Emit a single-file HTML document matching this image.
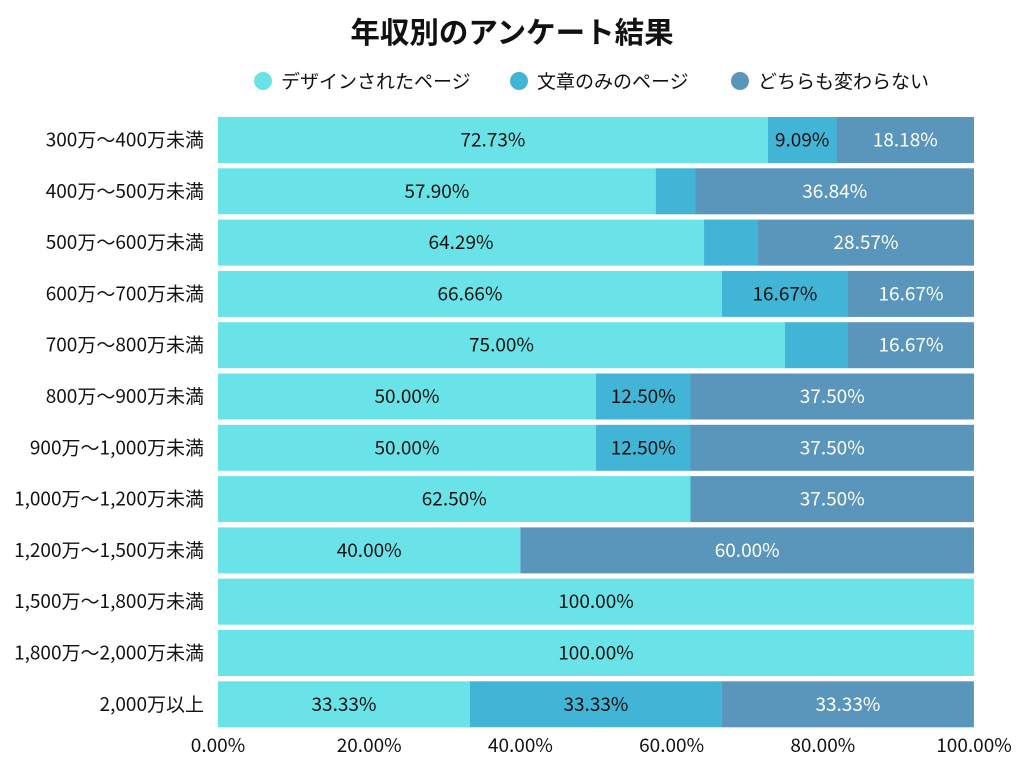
<!DOCTYPE html>
<html><head><meta charset="utf-8"><style>
body{margin:0;background:#fff;font-family:"Noto Sans CJK JP",sans-serif}
svg text{font-family:"Noto Sans CJK JP","Liberation Sans",sans-serif}
</style></head><body>
<svg id="c" width="1024" height="768">
<text x="512" y="43" text-anchor="middle" font-size="29.5" font-weight="bold" fill="#111">年収別のアンケート結果</text>
<g id="legend"></g>
<g id="bars"></g>
<g id="axis"></g>
</svg>
<script>
const categories=["300万～400万未満","400万～500万未満","500万～600万未満","600万～700万未満","700万～800万未満","800万～900万未満","900万～1,000万未満","1,000万～1,200万未満","1,200万～1,500万未満","1,500万～1,800万未満","1,800万～2,000万未満","2,000万以上"];
const seriesNames=["デザインされたページ","文章のみのページ","どちらも変わらない"];
const design=[72.73,57.90,64.29,66.66,75.00,50.00,50.00,62.50,40.00,100,100,33.33];
const textOnly=[9.09,5.26,7.14,16.67,8.33,12.50,12.50,0,0,0,0,33.33];
const neither=[18.18,36.84,28.57,16.67,16.67,37.50,37.50,37.50,60.00,0,0,33.33];
const ticks=[0,20,40,60,80,100];
const colors=["#6ae3e8","#42b4d6","#5a96bc"];
const textColors=["#111","#111","#fff"];
const NS="http://www.w3.org/2000/svg";
const x0=218,x1=974,top0=117,pitch=51.3,bh=46;
const xs=v=>x0+(x1-x0)*v/100;
function mk(t,a,p){const e=document.createElementNS(NS,t);for(const k in a)e.setAttribute(k,a[k]);p.appendChild(e);return e;}
const bars=document.getElementById('bars');
const series=[design,textOnly,neither];
categories.forEach((c,i)=>{
  const y=top0+i*pitch;
  const lab=mk('text',{x:204,y:y+bh/2+6.5,'text-anchor':'end','font-size':19,fill:'#111'},bars);
  lab.textContent=c;
  
  
  let acc=0;
  series.forEach((s,j)=>{
    const v=s[i];if(v<=0)return;
    const r=mk('rect',{x:xs(acc),y:y,width:xs(acc+v)-xs(acc),height:bh,fill:colors[j]},bars);
    
    
    if(v>=9){
      const t=mk('text',{x:(xs(acc)+xs(acc+v))/2,y:y+bh/2+6.5,'text-anchor':'middle','font-size':19,fill:textColors[j]},bars);
      t.textContent=v.toFixed(2)+'%';
      
      
    }
    acc+=v;
  });
});
const axis=document.getElementById('axis');
ticks.forEach(v=>{
  const t=mk('text',{x:xs(v),y:752,'text-anchor':'middle','font-size':19,fill:'#111'},axis);
  t.textContent=v.toFixed(2)+'%';
  
  
});
const legend=document.getElementById('legend');
const lx=[263,519,740];
seriesNames.forEach((n,j)=>{
  const c=mk('circle',{cx:lx[j],cy:81,r:9,fill:colors[j]},legend);
  
  
  const t=mk('text',{x:lx[j]+18,y:88,'font-size':19,fill:'#111'},legend);
  t.textContent=n;
  
  
});
</script>
</body></html>
